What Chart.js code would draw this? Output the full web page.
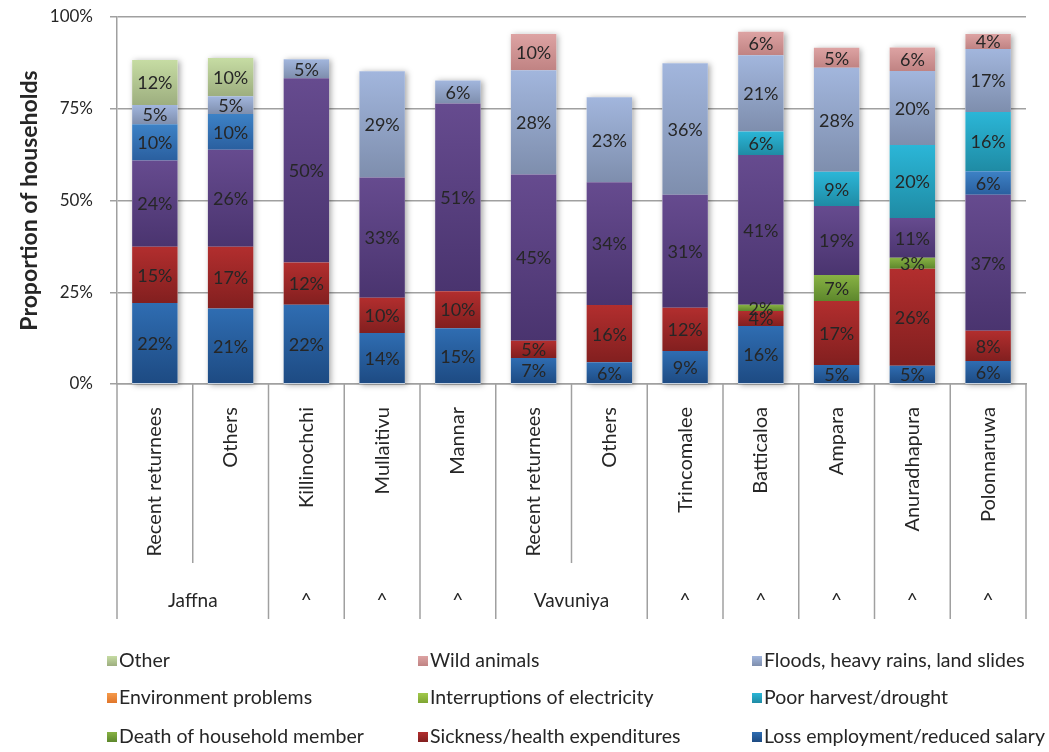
<!DOCTYPE html>
<html>
<head>
<meta charset="utf-8">
<script src="https://cdn.jsdelivr.net/npm/chart.js@4.4.1/dist/chart.umd.min.js"></script>
<style>
  html, body { margin: 0; padding: 0; background: #fff; }
  #wrap { width: 1049px; height: 752px; position: relative; }
</style>
</head>
<body>
<div id="wrap"><canvas id="chart" width="1049" height="752"></canvas></div>
<script>
// categories (inner level) and district groups (outer level)
const categories = ['Recent returnees', 'Others', 'Killinochchi', 'Mullaitivu', 'Mannar',
    'Recent returnees', 'Others', 'Trincomalee', 'Batticaloa', 'Ampara', 'Anuradhapura', 'Polonnaruwa'];
const groupNames = ['Jaffna', '^', '^', '^', 'Vavuniya', '^', '^', '^', '^', '^'];
const groupSpans = [2, 1, 1, 1, 2, 1, 1, 1, 1, 1];
const yTicks = [0, 25, 50, 75, 100];

// series values, % of households (stack order bottom -> top)
const lossEmployment = [22.1, 20.6, 21.6, 13.9, 15.2, 7.1, 5.9, 9.0, 15.8, 5.2, 5.0, 6.3];
const sickness       = [15.3, 16.8, 11.5, 9.6, 10.1, 4.7, 15.6, 11.8, 4.1, 17.4, 26.4, 8.2];
const deathMember    = [0, 0, 0, 0, 0, 0, 0, 0, 1.7, 7.1, 3.0, 0];
const purpleSeries   = [23.5, 26.4, 50.2, 32.8, 51.1, 45.3, 33.5, 30.8, 40.8, 18.8, 10.8, 37.1];
const blueSeries     = [9.9, 9.8, 0, 0, 0, 0, 0, 0, 0, 0, 0, 6.4];
const poorHarvest    = [0, 0, 0, 0, 0, 0, 0, 0, 6.4, 9.3, 19.9, 16.1];
const electricity    = [0, 0, 0, 0, 0, 0, 0, 0, 0, 0, 0, 0];
const environment    = [0, 0, 0, 0, 0, 0, 0, 0, 0, 0, 0, 0];
const floods         = [5.2, 4.8, 5.2, 28.9, 6.3, 28.4, 23.1, 35.8, 20.8, 28.4, 20.2, 17.2];
const wildAnimals    = [0, 0, 0, 0, 0, 9.9, 0, 0, 6.4, 5.4, 6.4, 4.1];
const other          = [12.3, 10.4, 0, 0, 0, 0, 0, 0, 0, 0, 0, 0];

const FONT = 'Lato, "Noto Sans", sans-serif';
const TEXT = '#262626';
const GRID = '#a0a0a0';

// [top colour, bottom colour] for the Excel-like vertical gradient
const seriesDefs = [
    { label: 'Loss employment/reduced salary', data: lossEmployment, c: ['#2f6db2', '#1d4a82'] },
    { label: 'Sickness/health expenditures', data: sickness, c: ['#b22e2e', '#821f1f'] },
    { label: 'Death of household member', data: deathMember, c: ['#88b244', '#5d872c'] },
    { label: 'Series (purple)', data: purpleSeries, c: ['#664b8f', '#4a346f'], noLegend: true },
    { label: 'Series (blue)', data: blueSeries, c: ['#3d82c6', '#2a5f9f'], noLegend: true },
    { label: 'Poor harvest/drought', data: poorHarvest, c: ['#2bb6d7', '#1f8ba4'] },
    { label: 'Interruptions of electricity', data: electricity, c: ['#a2c94c', '#7ea532'] },
    { label: 'Environment problems', data: environment, c: ['#f59a4b', '#e0762a'] },
    { label: 'Floods, heavy rains, land slides', data: floods, c: ['#a2b6dd', '#7e8ead'] },
    { label: 'Wild animals', data: wildAnimals, c: ['#dda3a3', '#c08383'] },
    { label: 'Other', data: other, c: ['#c6dca3', '#9dae7f'] }
];

function segmentGradient(context, def, dsIndex) {
    const chart = context.chart;
    const y = chart.scales && chart.scales.y;
    const i = context.dataIndex;
    if (!y || i === undefined) return def.c[0];
    let base = 0;
    for (let k = 0; k < dsIndex; k++) base += seriesDefs[k].data[i];
    const top = y.getPixelForValue(base + def.data[i]);
    const bottom = y.getPixelForValue(base);
    if (!isFinite(top) || !isFinite(bottom) || top === bottom) return def.c[0];
    const g = chart.ctx.createLinearGradient(0, top, 0, bottom);
    g.addColorStop(0, def.c[0]);
    g.addColorStop(1, def.c[1]);
    return g;
}

const datasets = seriesDefs.map((def, k) => ({
    label: def.label,
    data: def.data,
    backgroundColor: (ctx) => segmentGradient(ctx, def, k),
    borderWidth: 0,
    barPercentage: 0.6,
    categoryPercentage: 1.0
}));

// soft shadow behind each stacked column
const shadowPlugin = {
    id: 'stackShadow',
    beforeDatasetsDraw(chart) {
        const ctx = chart.ctx, x = chart.scales.x, y = chart.scales.y;
        const meta = chart.getDatasetMeta(0);
        ctx.save();
        ctx.shadowColor = 'rgba(0,0,0,0.35)';
        ctx.shadowBlur = 6;
        ctx.shadowOffsetX = 2;
        ctx.shadowOffsetY = 1;
        ctx.fillStyle = '#fff';
        categories.forEach((c, i) => {
            let total = 0;
            seriesDefs.forEach(d => total += d.data[i]);
            const w = meta.data[i].width;
            const cx = x.getPixelForValue(i);
            const top = y.getPixelForValue(total);
            ctx.fillRect(cx - w / 2, top, w, y.getPixelForValue(0) - top);
        });
        ctx.restore();
    }
};

// value labels in the middle of each segment
const valueLabels = {
    id: 'valueLabels',
    afterDatasetsDraw(chart) {
        const ctx = chart.ctx;
        ctx.save();
        ctx.font = '18px ' + FONT;
        ctx.fillStyle = TEXT;
        ctx.textAlign = 'center';
        ctx.textBaseline = 'middle';
        chart.data.datasets.forEach((ds, di) => {
            chart.getDatasetMeta(di).data.forEach((el, i) => {
                const v = ds.data[i];
                if (!v) return;
                const p = el.getProps(['x', 'y', 'base'], true);
                ctx.fillText(Math.round(v) + '%', p.x, (p.y + p.base) / 2 + 1);
            });
        });
        ctx.restore();
    }
};

// outer category level, separators and the legend grid
const axisAndLegend = {
    id: 'axisAndLegend',
    afterDraw(chart) {
        const ctx = chart.ctx, x = chart.scales.x;
        const top = x.top;
        ctx.save();
        ctx.strokeStyle = GRID;
        ctx.lineWidth = 1.5;
        let start = 0;
        const bounds = [0];
        groupSpans.forEach(s => { start += s; bounds.push(start); });
        for (let i = 0; i <= categories.length; i++) {
            const px = x.getPixelForValue(i - 0.5);
            const full = bounds.indexOf(i) >= 0;
            ctx.beginPath();
            ctx.moveTo(px, top);
            ctx.lineTo(px, top + (full ? 235 : 179));
            ctx.stroke();
        }
        ctx.font = '19px ' + FONT;
        ctx.fillStyle = TEXT;
        ctx.textAlign = 'center';
        ctx.textBaseline = 'middle';
        groupNames.forEach((g, k) => {
            const a = x.getPixelForValue(bounds[k] - 0.5);
            const b = x.getPixelForValue(bounds[k + 1] - 0.5);
            ctx.fillText(g, (a + b) / 2, top + 217);
        });

        // legend
        const items = chart.data.datasets
            .map((ds, k) => ({ ds, def: seriesDefs[k] }))
            .filter(it => !it.def.noLegend)
            .reverse();
        const colX = [107, 418, 752];
        const rowY = [661, 698, 737];
        ctx.font = '19.5px ' + FONT;
        ctx.textAlign = 'left';
        items.forEach((it, n) => {
            const cx = colX[n % 3], cy = rowY[Math.floor(n / 3)];
            const g = ctx.createLinearGradient(0, cy - 5, 0, cy + 5);
            g.addColorStop(0, it.def.c[0]);
            g.addColorStop(1, it.def.c[1]);
            ctx.fillStyle = g;
            ctx.fillRect(cx, cy - 5, 10, 10);
            ctx.fillStyle = TEXT;
            ctx.fillText(it.ds.label, cx + 12, cy);
        });
        ctx.restore();
    }
};

new Chart(document.getElementById('chart'), {
    type: 'bar',
    data: { labels: categories, datasets: datasets },
    plugins: [shadowPlugin, valueLabels, axisAndLegend],
    options: {
        responsive: false,
        animation: false,
        layout: { padding: { left: 0, right: 23, top: 17, bottom: 0 } },
        plugins: {
            legend: { display: false },
            tooltip: { enabled: false }
        },
        scales: {
            x: {
                stacked: true,
                grid: { display: false, drawTicks: false },
                border: { display: true, color: GRID, width: 1.5 },
                ticks: {
                    autoSkip: false,
                    minRotation: 90,
                    maxRotation: 90,
                    padding: 23,
                    color: TEXT,
                    font: { family: FONT, size: 20 }
                },
                afterFit(scale) { scale.height = 368; }
            },
            y: {
                stacked: true,
                min: 0,
                max: 100,
                afterBuildTicks(scale) { scale.ticks = yTicks.map(v => ({ value: v })); },
                grid: { color: GRID, lineWidth: 1.5, tickLength: 7 },
                border: { display: true, color: GRID, width: 1.5 },
                ticks: {
                    padding: 17,
                    color: TEXT,
                    font: { family: FONT, size: 17 },
                    callback: (v) => v + '%'
                },
                title: {
                    display: true,
                    text: 'Proportion of households',
                    color: TEXT,
                    font: { family: FONT, size: 23, weight: 'bold' },
                    padding: { top: 16, bottom: 0 }
                },
                afterFit(scale) {
                    scale.width = 117;
                    // tick padding otherwise pushes the plot down
                    scale.paddingTop = 0;
                    scale.paddingBottom = 0;
                }
            }
        }
    }
});
</script>
</body>
</html>
